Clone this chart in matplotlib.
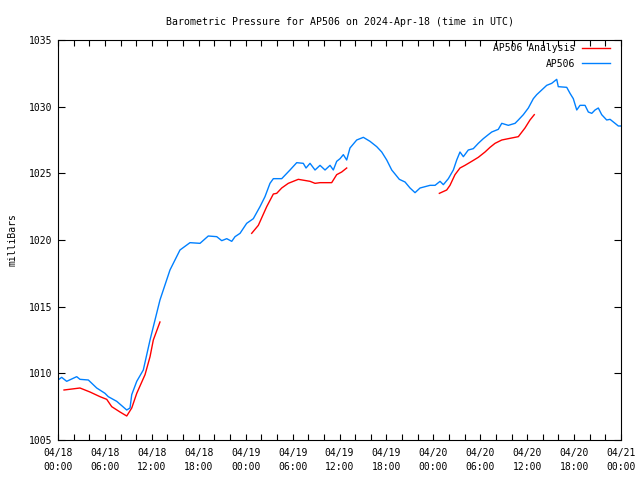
import matplotlib
matplotlib.use('Agg')
import matplotlib.pyplot as plt
import matplotlib.dates as mdates
import numpy as np
from datetime import datetime, timedelta

# hours after 2024-04-18 00:00 UTC, pressure in mb
obs_hours = [0, 0.47, 1.11, 2.39, 2.81, 3.88, 4.95, 6.01, 6.43, 7.51, 8.79, 9.21, 9.43, 10.07,
             10.91, 11.77, 13.04, 14.32, 15.6, 16.88, 18.16, 19.22, 20.3, 20.94, 21.58, 22.22,
             22.64, 23.28, 24.13, 24.98, 25.83, 26.47, 27.11, 27.54, 28.61, 29.67, 30.53, 31.37,
             31.72, 32.23, 32.87, 33.51, 34.15, 34.79, 35.21, 35.64, 36.07, 36.49, 36.92, 37.34,
             38.2, 39.05, 39.9, 40.76, 41.4, 42.04, 42.68, 43.1, 43.65, 44.38, 45.02, 45.66,
             46.3, 46.94, 47.58, 48.22, 48.86, 49.28, 49.92, 50.56, 50.99, 51.41, 51.84, 52.47,
             53.11, 53.75, 54.39, 55.03, 55.47, 56.31, 56.75, 57.59, 58.45, 58.87, 59.51, 60.15,
             60.79, 61.22, 61.86, 62.5, 63.14, 63.78, 63.98, 65.06, 65.48, 65.9, 66.34, 66.76,
             67.4, 67.82, 68.26, 68.68, 69.1, 69.53, 70.17, 70.6, 71.24, 71.66, 72.0]
obs_mb = [1009.5, 1009.7, 1009.4, 1009.75, 1009.55, 1009.5, 1008.9, 1008.5, 1008.25, 1007.9,
          1007.25, 1007.4, 1008.4, 1009.4, 1010.25, 1012.5, 1015.5, 1017.75, 1019.25, 1019.8,
          1019.75, 1020.3, 1020.25, 1019.95, 1020.1, 1019.9, 1020.25, 1020.5, 1021.25, 1021.6,
          1022.5, 1023.25, 1024.25, 1024.6, 1024.6, 1025.25, 1025.8, 1025.75, 1025.4, 1025.75,
          1025.25, 1025.6, 1025.25, 1025.6, 1025.25, 1025.9, 1026.1, 1026.4, 1026.0, 1026.9,
          1027.5, 1027.7, 1027.4, 1027.0, 1026.6, 1026.0, 1025.25, 1024.95, 1024.55, 1024.35,
          1023.9, 1023.55, 1023.9, 1024.0, 1024.1, 1024.1, 1024.4, 1024.15, 1024.6, 1025.25,
          1026.0, 1026.6, 1026.25, 1026.75, 1026.85, 1027.25, 1027.6, 1027.9, 1028.1, 1028.3,
          1028.75, 1028.6, 1028.75, 1029.0, 1029.4, 1029.9, 1030.6, 1030.9, 1031.25, 1031.6,
          1031.75, 1032.05, 1031.5, 1031.45, 1031.0, 1030.6, 1029.75, 1030.1, 1030.1, 1029.6,
          1029.5, 1029.75, 1029.9, 1029.4, 1029.0, 1029.05, 1028.75, 1028.55, 1028.55]

ana1_hours = [0.77, 2.81, 4.09, 5.37, 6.23, 6.87, 7.93, 8.79, 9.43, 10.07, 11.13, 11.77, 12.19, 13.04]
ana1_mb = [1008.75, 1008.9, 1008.6, 1008.25, 1008.05, 1007.5, 1007.1, 1006.8, 1007.4, 1008.5,
           1009.9, 1011.25, 1012.5, 1013.85]
ana2_hours = [24.77, 25.62, 26.69, 27.54, 27.97, 28.61, 29.45, 30.73, 32.23, 32.87, 33.51, 35.0,
              35.64, 36.28, 36.92]
ana2_mb = [1020.5, 1021.1, 1022.5, 1023.45, 1023.5, 1023.9, 1024.25, 1024.55, 1024.4, 1024.25,
           1024.3, 1024.3, 1024.9, 1025.1, 1025.4]
ana3_hours = [48.77, 49.71, 50.13, 50.77, 51.41, 52.05, 52.91, 53.75, 54.61, 55.25, 55.89, 56.75,
              57.59, 58.87, 59.72, 60.36, 60.91]
ana3_mb = [1023.5, 1023.75, 1024.1, 1024.9, 1025.4, 1025.6, 1025.9, 1026.2, 1026.6, 1026.95,
           1027.25, 1027.5, 1027.6, 1027.75, 1028.4, 1029.0, 1029.4]

base = datetime(2024, 4, 18)
def to_num(hours):
    return [mdates.date2num(base + timedelta(hours=h)) if not np.isnan(h) else np.nan for h in hours]

# join analysis segments with gaps
ana_hours = ana1_hours + [np.nan] + ana2_hours + [np.nan] + ana3_hours
ana_mb = ana1_mb + [np.nan] + ana2_mb + [np.nan] + ana3_mb

plt.rcParams['font.family'] = 'DejaVu Sans Mono'
plt.rcParams['font.size'] = 7

fig = plt.figure(figsize=(6.4, 4.8), dpi=100)
ax = fig.add_axes([58/640, 40/480, 563/640, 400/480])

ax.plot(to_num(ana_hours), ana_mb, color='#ff0000', lw=1, label='AP506 Analysis')
ax.plot(to_num(obs_hours), obs_mb, color='#0080ff', lw=1, label='AP506')

ax.set_xlim(mdates.date2num(base), mdates.date2num(base + timedelta(hours=72)))
ax.set_ylim(1005, 1035)
ax.set_yticks(range(1005, 1036, 5))

ax.xaxis.set_major_locator(mdates.HourLocator(byhour=range(0, 24, 6)))
ax.xaxis.set_minor_locator(mdates.HourLocator(byhour=range(0, 24, 2)))
ax.xaxis.set_major_formatter(mdates.DateFormatter('%m/%d\n%H:%M'))

ax.tick_params(which='both', direction='in', top=True, right=True, length=4, width=0.8)
ax.tick_params(axis='x', which='major', pad=6)
ax.tick_params(axis='y', length=5, pad=4)
for lbl in ax.get_xticklabels():
    lbl.set_linespacing(1.45)
for s in ax.spines.values():
    s.set_linewidth(0.8)

ax.set_title('Barometric Pressure for AP506 on 2024-Apr-18 (time in UTC)', fontsize=7.1, pad=11)
ax.set_ylabel('milliBars', labelpad=8)

ax.legend(loc='upper right', bbox_to_anchor=(0.9805, 0.992), frameon=False, markerfirst=False,
          borderpad=0, borderaxespad=0, handlelength=2.9, handletextpad=0.7, labelspacing=0.55)

plt.savefig('out.png', dpi=100)
